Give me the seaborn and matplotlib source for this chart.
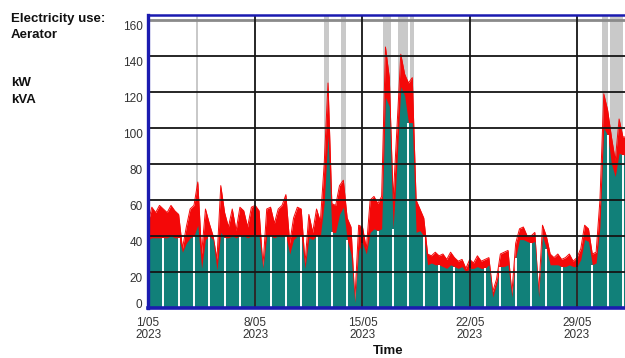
import numpy as np
import pandas as pd
import matplotlib
matplotlib.use("Agg")
import matplotlib.pyplot as plt
import matplotlib.transforms as mtransforms
import seaborn as sns

# ---- data (4 samples per day, days since 1 May 2023) ----
samples_per_day = 4
kva = [47, 56, 53, 57,  55, 53, 57, 54,  52, 33, 45, 55,  57, 70, 30, 55,
       47, 40, 27, 68,  53, 45, 55, 43,  56, 54, 45, 56,  57, 54, 23, 55,
       56, 47, 55, 57,  63, 36, 50, 56,  55, 25, 52, 42,  55, 48, 80, 125,
       58, 57, 68, 71,  50, 45, 4, 46,   45, 33, 60, 62,  58, 62, 145, 128,
       60, 100, 141, 130, 125, 128, 60, 55, 50, 30, 29, 31, 29, 30, 27, 31,
       28, 26, 27, 22,  27, 25, 29, 26,  27, 28, 9, 16,   30, 31, 32, 8,
       36, 44, 45, 40,  40, 42, 8, 46,   40, 30, 28, 30,  27, 28, 30, 26,
       28, 33, 46, 44,  30, 31, 60, 119, 110, 95, 82, 105, 95, 95]
kw = [38, 39, 39, 39,  39, 39, 40, 39,  39, 31, 36, 39,  40, 46, 22, 38,
      40, 38, 21, 42,  39, 39, 40, 39,  40, 40, 39, 40,  40, 40, 22, 40,
      40, 39, 40, 40,  40, 30, 38, 40,  40, 22, 39, 38,  40, 40, 58, 96,
      42, 42, 52, 56,  38, 30, 3, 32,   36, 30, 42, 44,  43, 44, 117, 112,
      44, 80, 123, 118, 103, 103, 42, 43, 40, 24, 25, 24, 24, 23, 22, 24,
      23, 22, 23, 20,  22, 22, 23, 22,  22, 24, 6, 13,   23, 23, 24, 6,
      28, 38, 38, 37,  36, 37, 6, 40,   33, 24, 24, 24,  23, 23, 24, 23,
      23, 27, 38, 37,  24, 25, 45, 100, 96, 80, 73, 86,  85, 85]

week_days = [0, 7, 14, 21, 28]
week_labels = ["1/05\n2023", "8/05\n2023", "15/05\n2023", "22/05\n2023", "29/05\n2023"]
y_values = [0, 20, 40, 60, 80, 100, 120, 140, 160]
band_start = [3.13, 11.51, 12.62, 15.36, 16.34, 17.08, 29.61, 30.16]
band_end = [3.27, 11.83, 12.95, 15.86, 16.99, 17.38, 30.05, 30.98]

df = pd.DataFrame({"day": np.arange(len(kva)) / samples_per_day,
                   "kVA": kva, "kW": kw})

# ---- figure ----
sns.set_style("white")
plt.rcParams["font.family"] = ["Liberation Sans", "DejaVu Sans"]

fig = plt.figure(figsize=(6.25, 3.58), dpi=100)
ax = fig.add_axes([148 / 625, 1 - 308 / 358, (625 - 148) / 625, (308 - 15) / 358])

teal = "#118079"
red = "#f40808"
blue = "#1b1bb0"

for s, e in zip(band_start, band_end):
    ax.axvspan(s, e, color="#c9c9c9", lw=0, zorder=0.5)

ax.fill_between(df["day"], 0, df["kVA"], color=red, lw=0, zorder=1)
sns.lineplot(data=df, x="day", y="kVA", color=red, lw=0.7, ax=ax, zorder=1.1)
ax.fill_between(df["day"], 0, df["kW"], color=teal, lw=0, zorder=2)

# white gaps at each midnight inside the kW bars
day_idx = np.arange(0, len(kw), samples_per_day)
ax.vlines(df["day"].iloc[day_idx], 0, df["kW"].iloc[day_idx], color="white",
          lw=1.4, zorder=2.5)

for v in y_values[1:-1]:
    ax.axhline(v, color="#151515", lw=1.3, zorder=3)
ax.axhline(160, color="#8a8a8a", lw=2.0, zorder=3)
for d in week_days[1:]:
    ax.axvline(d, color="#151515", lw=1.3, zorder=3)

ax.set_xlim(0, (625 - 148) / 15.32)
ax.set_ylim(0, (308 - 15) / 1.8)
ax.set_xlabel("")
ax.set_ylabel("")

ax.set_xticks(week_days)
ax.set_xticklabels(week_labels, fontsize=8.5, color="#333333", linespacing=1.0)
ax.set_yticks(y_values)
ax.set_yticklabels([str(v) for v in y_values], fontsize=8.5, color="#333333")
ax.tick_params(axis="both", length=0)
ax.tick_params(axis="x", pad=6.5)
ax.tick_params(axis="y", pad=4)

for tick, v in zip(ax.yaxis.get_major_ticks(), y_values):
    dy = 0.047 if v == 0 else -0.06
    tick.label1.set_transform(tick.label1.get_transform() +
                              mtransforms.ScaledTranslation(0, dy, fig.dpi_scale_trans))

for side in ["left", "bottom", "top"]:
    ax.spines[side].set_visible(True)
    ax.spines[side].set_color(blue)
ax.spines["left"].set_linewidth(2.4)
ax.spines["bottom"].set_linewidth(2.6)
ax.spines["top"].set_linewidth(1.8)
ax.spines["right"].set_visible(False)
for sp in ax.spines.values():
    sp.set_zorder(4)

# ---- titles ----
tkw = dict(fontsize=9.5, fontweight="bold", va="baseline", ha="left", color="#111111")
fig.text(11 / 625, 1 - 22 / 358, "Electricity use:", **tkw)
fig.text(11 / 625, 1 - 38 / 358, "Aerator", **tkw)
fig.text(11 / 625, 1 - 86 / 358, "kW", **tkw)
fig.text(11 / 625, 1 - 103 / 358, "kVA", **tkw)
fig.text(388 / 625, 1 - 357 / 358, "Time", fontsize=9.5, fontweight="bold",
         va="bottom", ha="center", color="#111111")

fig.savefig("out.png", dpi=100)
